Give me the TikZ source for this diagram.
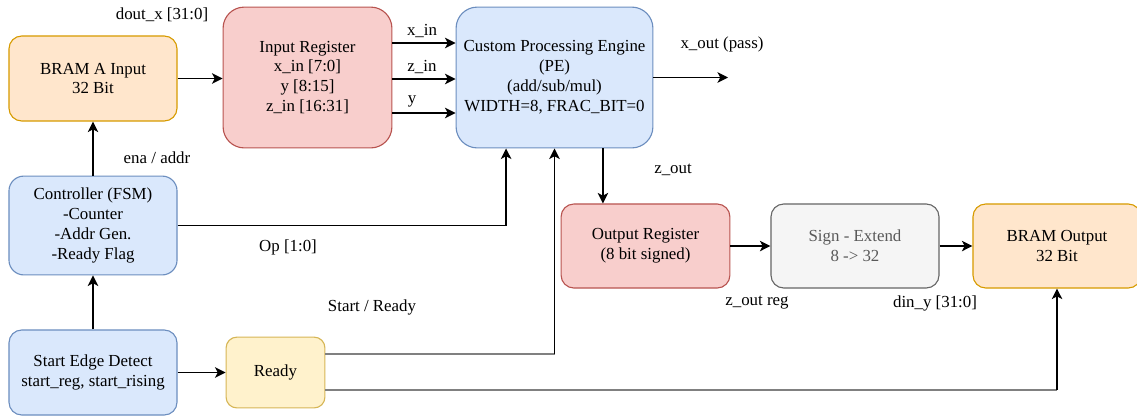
\documentclass[tikz,border=0pt]{standalone}
\usepackage{fontspec}
\setmainfont{Liberation Serif}
\usetikzlibrary{arrows.meta}
\definecolor{bramfill}{HTML}{FFE6CC}
\definecolor{bramline}{HTML}{D79B00}
\definecolor{regfill}{HTML}{F8CECC}
\definecolor{regline}{HTML}{B85450}
\definecolor{ctlfill}{HTML}{DAE8FC}
\definecolor{ctlline}{HTML}{6C8EBF}
\definecolor{rdyfill}{HTML}{FFF2CC}
\definecolor{rdyline}{HTML}{D6B656}
\definecolor{extfill}{HTML}{F5F5F5}
\definecolor{extline}{HTML}{666666}
\tikzset{
 blk/.style={draw, line width=0.8pt, align=center, inner sep=0pt,
   font=\fontsize{12}{14.2}\selectfont},
 bram/.style={blk, fill=bramfill, draw=bramline},
 reg/.style={blk, fill=regfill, draw=regline},
 ctl/.style={blk, fill=ctlfill, draw=ctlline},
 rdy/.style={blk, fill=rdyfill, draw=rdyline},
 ext/.style={blk, fill=extfill, draw=extline, text=black!65},
 sig/.style={line width=0.9pt, -{Stealth[length=7.5pt,width=7.5pt,inset=2pt]}},
 wire/.style={line width=1.5pt, draw=black!50},
 lbl/.style={inner sep=0pt, font=\fontsize{12}{14.2}\selectfont},
}

\begin{document}
\begin{tikzpicture}[x=0.025cm, y=-0.025cm]
    \useasboundingbox (0,0) rectangle (1137,416);

    % blocks, top row
    \node[bram, minimum width=4.2cm, minimum height=2.125cm, rounded corners=0.32cm] (bramA) at (93,78.5) {BRAM A Input\\32 Bit};
    \node[reg, minimum width=4.22cm, minimum height=3.52cm, rounded corners=0.53cm] (inreg) at (307.5,77.5) {Input Register\\x\_in [7:0]\\y [8:15]\\z\_in [16:31]};
    \node[ctl, minimum width=4.92cm, minimum height=3.52cm, rounded corners=0.53cm] (pe) at (554.5,77.5) {Custom Processing Engine\\(PE)\\(add/sub/mul)\\WIDTH=8, FRAC\_BIT=0};

    % control side
    \node[ctl, minimum width=4.2cm, minimum height=2.47cm, rounded corners=0.37cm] (ctrl) at (93,225.5) {Controller (FSM)\\-Counter\\-Addr Gen.\\-Ready Flag};
    \node[ctl, minimum width=4.2cm, minimum height=2.125cm, rounded corners=0.32cm] (startdet) at (93,372.5) {Start Edge Detect\\start\_reg, start\_rising};
    \node[rdy, minimum width=2.47cm, minimum height=1.77cm, rounded corners=0.27cm] (ready) at (275.5,372.5) {Ready};

    % output path
    \node[reg, minimum width=4.22cm, minimum height=2.1cm, rounded corners=0.32cm] (outreg) at (645.5,246) {Output Register\\(8 bit signed)};
    \node[ext, minimum width=4.2cm, minimum height=2.1cm, rounded corners=0.32cm] (signext) at (855,246) {Sign - Extend\\8 -> 32};
    \node[bram, minimum width=4.2cm, minimum height=2.1cm, rounded corners=0.32cm] (bramOut) at (1057,246) {BRAM Output\\32 Bit};

    \coordinate (xout) at (728,77.5);
    % corners of the two ready wires
    \coordinate (rdyPE) at ([yshift=0.46cm]ready.east -| pe.south);
    \coordinate (rdyOut) at ([yshift=-0.44cm]ready.east -| bramOut.south);

    % connections
    \draw[sig] (bramA.east) -- (inreg.west |- bramA.east);
    \foreach \yy in {43,79,113} {
        \draw[sig] (inreg.east |- 0,\yy) -- (pe.west |- 0,\yy);
    }
    \draw[sig] (pe.east) -- (xout);
    \draw[sig] (ctrl.north) -- (bramA.south);
    \draw[sig] (startdet.north) -- (ctrl.south);
    \draw[sig] (startdet.east) -- (ready.west);
    \draw[sig] (ctrl.east) -| ([xshift=-1.21cm]pe.south);
    \draw[sig] ([xshift=1.21cm]pe.south) -- ([xshift=1.21cm]pe.south |- outreg.north);
    \draw[sig] (outreg.east) -- (signext.west);
    \draw[sig] (signext.east) -- (bramOut.west);
    \draw[wire] ([yshift=0.46cm]ready.east) -- (rdyPE);
    \draw[sig] (rdyPE) -- (pe.south);
    \draw[wire] ([yshift=-0.44cm]ready.east) -- (rdyOut);
    \draw[sig] (rdyOut) -- (bramOut.south);

    % signal names
    \node[lbl] (lDout) at (162,15) {dout\_x [31:0]};
    \node[lbl] (lXin) at (422,31) {x\_in};
    \node[lbl] (lZin) at (422,67) {z\_in};
    \node[lbl] (lY) at (412,101) {y};
    \node[lbl] (lXout) at (722,44) {x\_out (pass)};
    \node[lbl] (lZout) at (673,170) {z\_out};
    \node[lbl] (lEna) at (157,158) {ena / addr};
    \node[lbl] (lOp) at (288,247) {Op [1:0]};
    \node[lbl] (lStart) at (372,307) {Start / Ready};
    \node[lbl] (lZreg) at (757,303) {z\_out reg};
    \node[lbl] (lDin) at (935,303) {din\_y [31:0]};
\end{tikzpicture}
\end{document}
